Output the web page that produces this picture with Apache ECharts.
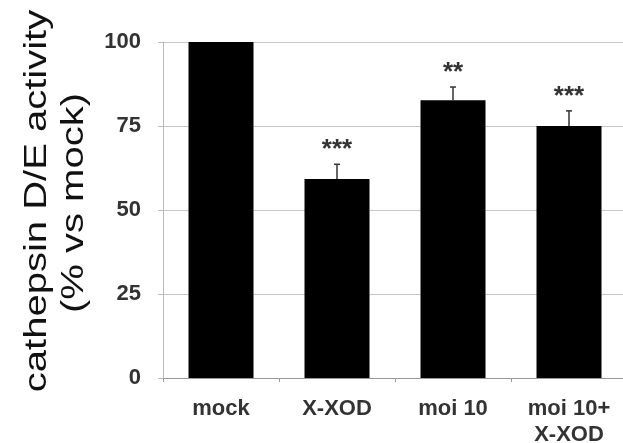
<!DOCTYPE html>
<html>
<head>
<meta charset="utf-8">
<script src="https://cdn.jsdelivr.net/npm/echarts@6/dist/echarts.min.js"></script>
<style>html,body{margin:0;padding:0;background:#fff}#c{width:623px;height:443px}</style>
</head>
<body>
<div id="c"></div>
<script>
const categories = ['mock', 'X-XOD', 'moi 10', 'moi 10+\nX-XOD'];
const values = [100, 59.2, 82.7, 75];
const errors = [0, 4.4, 3.9, 4.5];
const stars = ['', '***', '**', '***'];
const yTicks = [0, 25, 50, 75, 100];
const yTitle1 = 'cathepsin D/E activity';
const yTitle2 = '(% vs mock)';

const FONT = 'Liberation Sans, Arial, sans-serif';
const chart = echarts.init(document.getElementById('c'));
chart.setOption({
  animation: false,
  backgroundColor: '#fff',
  grid: { left: 163, right: -4, top: 42, bottom: 65, containLabel: false, outerBoundsMode: 'none' },
  xAxis: {
    type: 'category',
    data: categories,
    axisLine: { lineStyle: { color: '#999', width: 1 } },
    axisTick: { show: true, length: 4, lineStyle: { color: '#999' } },
    axisLabel: { fontFamily: FONT, fontSize: 22, fontWeight: 'bold', color: '#333', margin: 18, lineHeight: 26 }
  },
  yAxis: {
    type: 'value',
    min: 0, max: 100, interval: 25,
    axisLine: { show: true, lineStyle: { color: '#bbb' } },
    axisTick: { show: true, length: 5, lineStyle: { color: '#bbb' } },
    splitLine: { lineStyle: { color: '#c8c8c8', width: 1 } },
    axisLabel: {
      fontFamily: FONT, fontSize: 22, fontWeight: 'bold', color: '#333', margin: 22,
      formatter: v => yTicks.indexOf(v) >= 0 ? String(v) : ''
    }
  },
  graphic: [
    { type: 'text', x: 37, y: 201, rotation: Math.PI / 2, scaleY: 0.8,
      style: { text: yTitle1, font: '40px ' + FONT, fill: '#111', align: 'center', verticalAlign: 'middle' } },
    { type: 'text', x: 74, y: 203, rotation: Math.PI / 2, scaleY: 0.8,
      style: { text: yTitle2, font: '40px ' + FONT, fill: '#111', align: 'center', verticalAlign: 'middle' } }
  ],
  series: [
    {
      type: 'bar',
      data: values,
      barWidth: 65,
      itemStyle: { color: '#000' },
      z: 2
    },
    {
      type: 'custom',
      z: 3,
      data: values.map((v, i) => [i, v, errors[i]]),
      renderItem: function (params, api) {
        const i = params.dataIndex;
        const base = api.coord([api.value(0), api.value(1)]);
        const top = api.coord([api.value(0), api.value(1) + api.value(2)]);
        const children = [];
        if (api.value(2) > 0) {
          children.push({ type: 'line', shape: { x1: base[0], y1: base[1], x2: top[0], y2: top[1] },
            style: { stroke: '#333', lineWidth: 1.5 } });
          children.push({ type: 'line', shape: { x1: top[0] - 3, y1: top[1], x2: top[0] + 3, y2: top[1] },
            style: { stroke: '#333', lineWidth: 1.5 } });
        }
        if (stars[i]) {
          children.push({ type: 'text', x: top[0], y: top[1] - 14,
            style: { text: stars[i], font: 'bold 26px ' + FONT, fill: '#333', align: 'center', verticalAlign: 'middle' } });
        }
        return { type: 'group', children: children };
      }
    }
  ]
});
</script>
</body>
</html>
